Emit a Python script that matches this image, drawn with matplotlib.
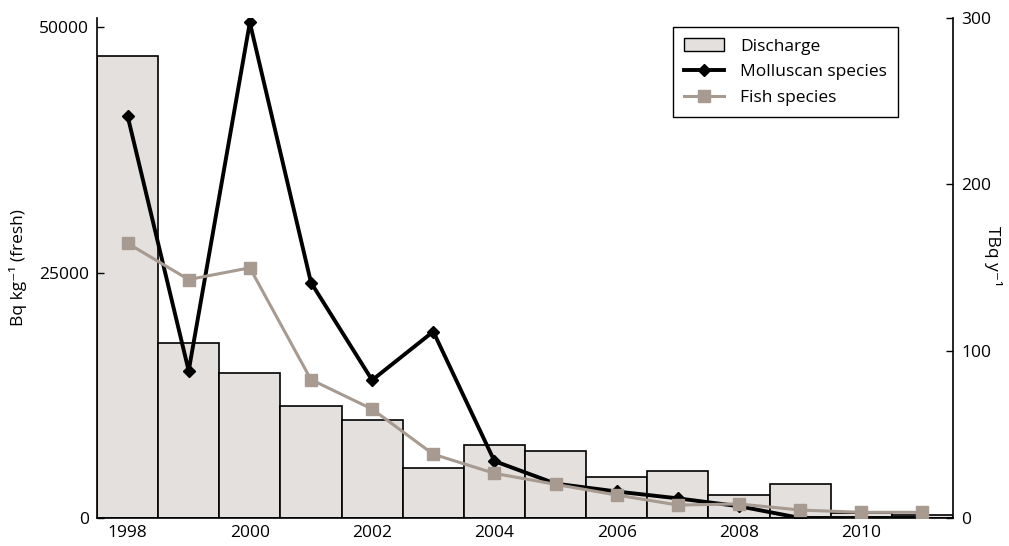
import matplotlib
matplotlib.use("Agg")
import matplotlib.pyplot as plt
from matplotlib.patches import Patch
from matplotlib.lines import Line2D

plt.rcParams['font.family'] = ['Open Sans', 'DejaVu Sans']

years = [1998, 1999, 2000, 2001, 2002, 2003, 2004,
         2005, 2006, 2007, 2008, 2009, 2010, 2011]
discharge_tbq = [277, 105, 87, 67, 59, 30, 44, 40, 24.4, 28, 14, 20.4, 3, 2]
molluscan_bq = [41000, 15000, 50500, 24000, 14050, 19000, 5800,
                3500, 2700, 2000, 1200, 0, 0, 0]
fish_bq = [28000, 24300, 25500, 14100, 11100, 6500, 4550,
           3430, 2340, 1320, 1430, 810, 580, 580]
year_ticks = [1998, 2000, 2002, 2004, 2006, 2008, 2010]

bar_fill = '#e3e0dd'
fish_color = '#a69a91'
fs = 12.5

fig = plt.figure(figsize=(10.09, 5.46), dpi=100)
ax = fig.add_axes([0.0961, 0.0513, 0.8484, 0.9165])
ax2 = ax.twinx()

# Discharge bars on the right-hand axis
ax2.bar(years, discharge_tbq, width=1.0, color=bar_fill,
        edgecolor='black', linewidth=1.2)
ax2.set_ylim(0, 300)
ax2.set_yticks([0, 100, 200, 300])

# Concentration lines on the left-hand axis, drawn above the bars
ax.set_zorder(ax2.get_zorder() + 1)
ax.patch.set_visible(False)
ax.plot(years, molluscan_bq, color='black', lw=2.8, marker='D',
        markersize=6.5, zorder=3)
ax.plot(years, fish_bq, color=fish_color, lw=2.2, marker='s',
        markersize=8, zorder=4)
ax.set_ylim(0, 51000)
ax.set_yticks([0, 25000, 50000])
ax.set_xlim(1997.5, 2011.5)
ax.set_xticks(year_ticks)

for a in (ax, ax2):
    a.spines['top'].set_visible(False)
    for s in a.spines.values():
        s.set_linewidth(1.2)
ax.spines['right'].set_visible(False)
ax2.spines['left'].set_visible(False)
ax2.spines['bottom'].set_visible(False)

ax.tick_params(axis='y', direction='in', length=5, width=1.0,
               labelsize=fs, pad=6)
ax.tick_params(axis='x', length=0, labelsize=fs, pad=5)
ax2.tick_params(axis='y', direction='in', length=5, width=1.0,
                labelsize=fs, pad=6)

ax.set_ylabel('Bq kg\u207b\u00b9 (fresh)', fontsize=fs,
              va='center', ha='center')
ax.yaxis.set_label_coords(-0.092, 0.5)
ax2.set_ylabel('TBq y\u207b\u00b9', fontsize=fs, rotation=270,
               va='center', ha='center')
ax2.yaxis.set_label_coords(1.047, 0.524)

handles = [
    Patch(facecolor=bar_fill, edgecolor='black', linewidth=1.0),
    Line2D([], [], color='black', lw=2.8, marker='D', markersize=6.5),
    Line2D([], [], color=fish_color, lw=2.2, marker='s', markersize=8),
]
labels = ['Discharge', 'Molluscan species', 'Fish species']
leg = ax.legend(handles, labels, loc='upper right',
                bbox_to_anchor=(0.9357, 0.981), borderaxespad=0,
                fontsize=fs, frameon=True, fancybox=False,
                edgecolor='black', framealpha=1, handlelength=2.3,
                handletextpad=0.9, borderpad=0.65, labelspacing=0.55)
leg.get_frame().set_linewidth(1.0)

fig.savefig('out.png', dpi=100)
